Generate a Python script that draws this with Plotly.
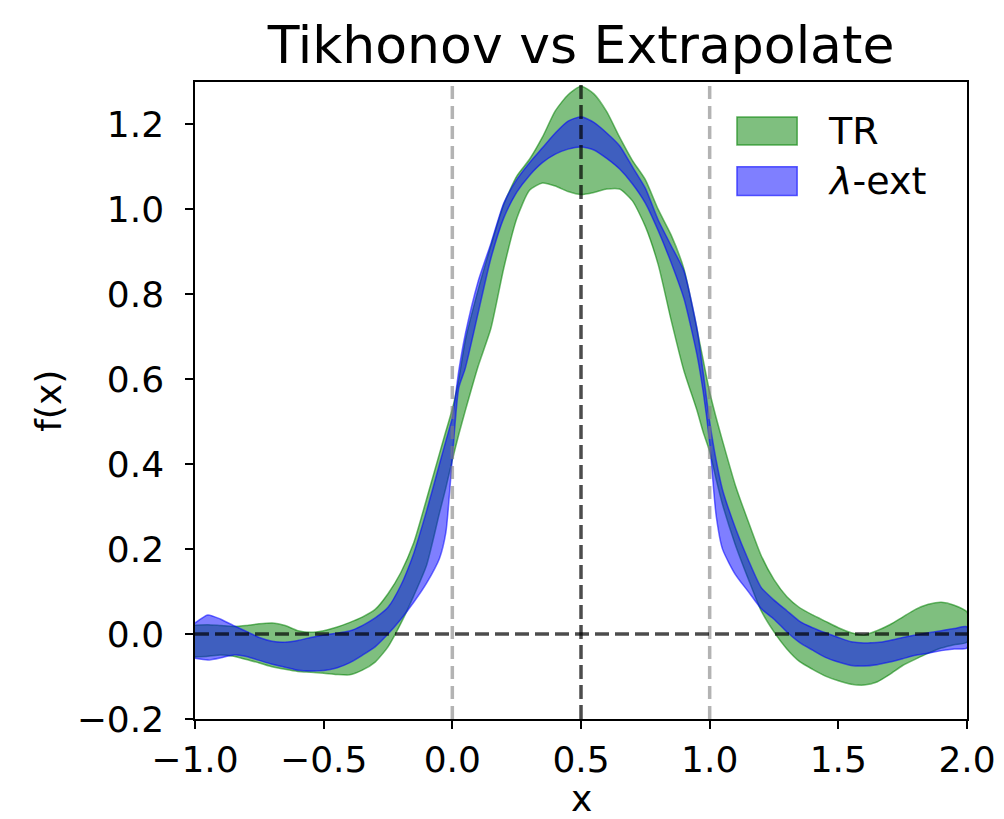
import plotly.graph_objects as go

# ---------------- data ----------------
x_grid = [-1.00, -0.95, -0.90, -0.85, -0.80, -0.75, -0.70, -0.65, -0.60, -0.55,
          -0.50, -0.45, -0.40, -0.35, -0.30, -0.25, -0.20, -0.15, -0.10, -0.05,
          -0.025, 0.00, 0.025, 0.05, 0.10, 0.15, 0.20, 0.25, 0.30, 0.35,
          0.40, 0.45, 0.50, 0.55, 0.60, 0.65, 0.70, 0.75, 0.80, 0.85,
          0.90, 0.95, 0.975, 1.00, 1.025, 1.05, 1.10, 1.15, 1.20, 1.25,
          1.30, 1.35, 1.40, 1.45, 1.50, 1.55, 1.60, 1.65, 1.70, 1.75,
          1.80, 1.85, 1.90, 1.95, 2.00]

tr_upper = [0.021, 0.022, 0.020, 0.018, 0.020, 0.024, 0.026, 0.020, 0.008, 0.004,
            0.008, 0.016, 0.027, 0.040, 0.058, 0.095, 0.145, 0.215, 0.318, 0.425,
            0.478, 0.530, 0.600, 0.690, 0.810, 0.915, 1.012, 1.078, 1.118, 1.170,
            1.232, 1.270, 1.290, 1.272, 1.230, 1.170, 1.115, 1.070, 1.000, 0.940,
            0.860, 0.720, 0.645, 0.570, 0.510, 0.455, 0.350, 0.265, 0.185, 0.128,
            0.088, 0.062, 0.045, 0.030, 0.015, 0.003, -0.002, 0.008, 0.022, 0.040,
            0.058, 0.070, 0.075, 0.068, 0.052]

tr_lower = [-0.054, -0.052, -0.049, -0.052, -0.060, -0.068, -0.077, -0.083, -0.088, -0.090,
            -0.092, -0.095, -0.096, -0.085, -0.066, -0.030, 0.025, 0.090, 0.162, 0.285,
            0.345, 0.410, 0.470, 0.525, 0.630, 0.720, 0.862, 0.978, 1.045, 1.062,
            1.055, 1.042, 1.035, 1.040, 1.048, 1.048, 1.020, 0.960, 0.870, 0.740,
            0.620, 0.528, 0.475, 0.430, 0.365, 0.305, 0.210, 0.130, 0.055, 0.005,
            -0.035, -0.065, -0.083, -0.099, -0.110, -0.118, -0.120, -0.113, -0.095, -0.074,
            -0.059, -0.045, -0.033, -0.025, -0.019]

ext_upper = [0.026, 0.045, 0.035, 0.020, 0.006, -0.008, -0.017, -0.019, -0.015, -0.008,
             -0.002, 0.002, 0.007, 0.020, 0.038, 0.063, 0.115, 0.190, 0.290, 0.400,
             0.455, 0.510, 0.620, 0.705, 0.830, 0.920, 1.015, 1.070, 1.110, 1.145,
             1.180, 1.208, 1.218, 1.205, 1.180, 1.150, 1.100, 1.050, 0.975, 0.915,
             0.855, 0.722, 0.615, 0.500, 0.410, 0.340, 0.250, 0.175, 0.110, 0.080,
             0.055, 0.030, 0.015, 0.003, -0.008, -0.018, -0.021, -0.020, -0.015, -0.008,
             -0.002, 0.003, 0.008, 0.013, 0.017]

ext_lower = [-0.057, -0.061, -0.056, -0.049, -0.053, -0.062, -0.071, -0.078, -0.085, -0.087,
             -0.086, -0.080, -0.068, -0.050, -0.030, 0.000, 0.035, 0.075, 0.120, 0.178,
             0.240, 0.415, 0.580, 0.625, 0.755, 0.885, 0.980, 1.040, 1.080, 1.110,
             1.130, 1.142, 1.147, 1.140, 1.120, 1.095, 1.060, 1.015, 0.950, 0.875,
             0.790, 0.660, 0.570, 0.450, 0.280, 0.200, 0.140, 0.100, 0.060, 0.035,
             0.005, -0.020, -0.038, -0.055, -0.066, -0.074, -0.075, -0.072, -0.066, -0.058,
             -0.050, -0.045, -0.039, -0.035, -0.033]

series_names = ["TR", "<i>λ</i>-ext"]
x_ticks = [-1.0, -0.5, 0.0, 0.5, 1.0, 1.5, 2.0]
y_ticks = [-0.2, 0.0, 0.2, 0.4, 0.6, 0.8, 1.0, 1.2]
gray_lines_x = [0.0, 1.0]
dark_line_x = 0.5
dark_line_y = 0.0

# ---------------- styles ----------------
GREEN_FILL = "rgba(0,128,0,0.5)"
GREEN_EDGE = "rgba(0,128,0,0.55)"
BLUE_FILL = "rgba(0,0,255,0.5)"
BLUE_EDGE = "rgba(0,0,255,0.55)"
FONT = "DejaVu Sans"

fig = go.Figure()


def band(upper, lower, fill, edge, name):
    xs = list(x_grid) + list(x_grid[::-1])
    ys = list(upper) + list(lower[::-1])
    fig.add_trace(go.Scatter(
        x=xs, y=ys, fill="toself", fillcolor=fill, mode="lines",
        line=dict(color=edge, width=1.5, shape="spline", smoothing=0.6),
        name=name, showlegend=False, hoverinfo="skip"))


band(tr_upper, tr_lower, GREEN_FILL, GREEN_EDGE, series_names[0])
band(ext_upper, ext_lower, BLUE_FILL, BLUE_EDGE, series_names[1])

shapes = []
for gx in gray_lines_x:
    shapes.append(dict(type="line", xref="x", yref="paper", x0=gx, x1=gx, y0=0, y1=1,
                       line=dict(color="rgba(128,128,128,0.6)", width=3.5, dash="13px,7px"),
                       layer="above"))
shapes.append(dict(type="line", xref="x", yref="paper", x0=dark_line_x, x1=dark_line_x, y0=0, y1=1,
                   line=dict(color="rgba(0,0,0,0.7)", width=3.5, dash="14px,6px"), layer="above"))
shapes.append(dict(type="line", xref="paper", yref="y", x0=0, x1=1, y0=dark_line_y, y1=dark_line_y,
                   line=dict(color="rgba(0,0,0,0.7)", width=3.5, dash="14px,6px"), layer="above"))

# manual legend (patches + text)
leg_x0, leg_x1 = 0.702, 0.780
leg_rows = [(0.945, 0.901), (0.867, 0.822)]
leg_colors = [(GREEN_FILL, "rgba(0,128,0,0.6)"), (BLUE_FILL, "rgba(0,0,255,0.6)")]
annotations = []
for (yt, yb), (fc, lc), nm in zip(leg_rows, leg_colors, series_names):
    shapes.append(dict(type="rect", xref="paper", yref="paper", x0=leg_x0, x1=leg_x1, y0=yb, y1=yt,
                       fillcolor=fc, line=dict(color=lc, width=1.5), layer="above"))
    annotations.append(dict(text=nm, xref="paper", yref="paper", x=0.817, y=(yt + yb) / 2,
                            xanchor="left", yanchor="middle", showarrow=False,
                            font=dict(family=FONT, size=38, color="black")))

annotations.append(dict(text="x", xref="paper", yref="paper", x=0.5, y=-0.125,
                        xanchor="center", yanchor="middle", showarrow=False,
                        font=dict(family=FONT, size=36, color="black")))
annotations.append(dict(text="f(x)", xref="paper", yref="paper", x=-0.19, y=0.5,
                        xanchor="center", yanchor="middle", showarrow=False, textangle=-90,
                        font=dict(family=FONT, size=36, color="black")))

axis_common = dict(showgrid=False, zeroline=False, showline=True, mirror=True,
                   linecolor="black", linewidth=1.5, ticks="outside", ticklen=8,
                   tickwidth=1.5, tickcolor="black", tickformat=".1f", automargin=False,
                   tickfont=dict(family=FONT, size=36, color="black"))

fig.update_layout(
    width=1004, height=819,
    margin=dict(l=195, r=37, t=82, b=100),
    paper_bgcolor="white", plot_bgcolor="white",
    title=dict(text="Tikhonov vs Extrapolate", x=0.5, xref="paper", xanchor="center",
               y=1 - 45 / 819, yref="container", yanchor="middle",
               font=dict(family=FONT, size=52, color="black")),
    xaxis=dict(range=[-1.0, 2.0], tickvals=x_ticks, **axis_common),
    yaxis=dict(range=[-0.2, 1.3], tickvals=y_ticks, ticklabelstandoff=14, **axis_common),
    shapes=shapes, annotations=annotations, showlegend=False,
)

fig.write_html("out.html")
